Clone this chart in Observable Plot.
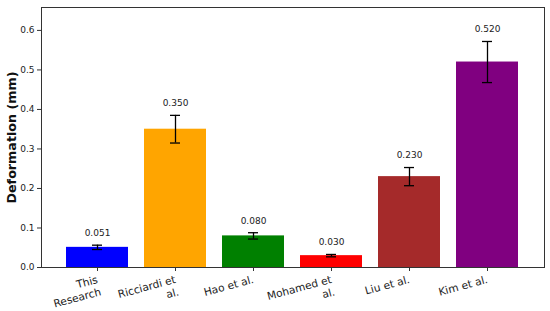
<!DOCTYPE html>
<html>
<head>
<meta charset="utf-8">
<script src="https://cdn.jsdelivr.net/npm/d3@7"></script>
<script src="https://cdn.jsdelivr.net/npm/@observablehq/plot@0.6"></script>
<style>
  html, body { margin: 0; padding: 0; background: #fff; }
  #chart svg { font-family: "DejaVu Sans", sans-serif; display: block; }
</style>
</head>
<body>
<div id="chart"></div>
<script>
const studies = ["This Research", "Ricciardi et al.", "Hao et al.", "Mohamed et al.", "Liu et al.", "Kim et al."];
const tickLabels = ["This\nResearch", "Ricciardi et\nal.", "Hao et al.", "Mohamed et\nal.", "Liu et al.", "Kim et al."];
const deformation = [0.051, 0.350, 0.080, 0.030, 0.230, 0.520];
const errors = [0.0055, 0.035, 0.008, 0.003, 0.023, 0.052];
const barColors = ["blue", "orange", "green", "red", "brown", "purple"];
const yTicks = [0, 0.1, 0.2, 0.3, 0.4, 0.5, 0.6];
const yLabel = "Deformation (mm)";

const rows = studies.map((name, i) => ({
  name,
  label: tickLabels[i],
  value: deformation[i],
  lo: deformation[i] - errors[i],
  hi: deformation[i] + errors[i]
}));

const chart = Plot.plot({
  width: 550,
  height: 311,
  marginLeft: 41,
  marginRight: 6,
  marginTop: 7,
  marginBottom: 44,
  style: { fontFamily: "DejaVu Sans, sans-serif", color: "#222", background: "#fff" },
  x: { domain: studies, paddingInner: 0.2, paddingOuter: 0.31, label: null },
  y: { domain: [0, 0.658], label: null },
  color: { domain: studies, range: barColors },
  marks: [
    Plot.barY(rows, { x: "name", y: "value", fill: "name" }),
    Plot.ruleX(rows, { x: "name", y1: "lo", y2: "hi", stroke: "black", strokeWidth: 1.3 }),
    Plot.tickY(rows, { x: "name", y: "lo", stroke: "black", strokeWidth: 1.3, insetLeft: 26, insetRight: 26 }),
    Plot.tickY(rows, { x: "name", y: "hi", stroke: "black", strokeWidth: 1.3, insetLeft: 26, insetRight: 26 }),
    Plot.text(rows, { x: "name", y: "hi", text: d => d.value.toFixed(3), dy: -12, fontSize: 9, fill: "#222", lineAnchor: "middle" }),
    Plot.axisY({ ticks: yTicks, tickFormat: d => d.toFixed(1), fontSize: 9, tickSize: 4, tickPadding: 3, label: null, stroke: "#333" }),
    Plot.axisX({ tickSize: 4, tickFormat: () => "", label: null, stroke: "#333" }),
    Plot.text(rows, { x: "name", text: "label", frameAnchor: "bottom", dx: -1.5, dy: 6.5, rotate: -15, textAnchor: "end", lineAnchor: "top", fontSize: 10.6, lineHeight: 1.2, fill: "#222" }),
    Plot.text([yLabel], { text: d => d, frameAnchor: "left", dx: -29.5, rotate: -90, textAnchor: "middle", lineAnchor: "middle", fontSize: 12.7, fontWeight: "bold", fill: "#111" }),
    Plot.frame({ stroke: "#333", strokeWidth: 1 })
  ]
});
document.getElementById("chart").appendChild(chart);
</script>
</body>
</html>
